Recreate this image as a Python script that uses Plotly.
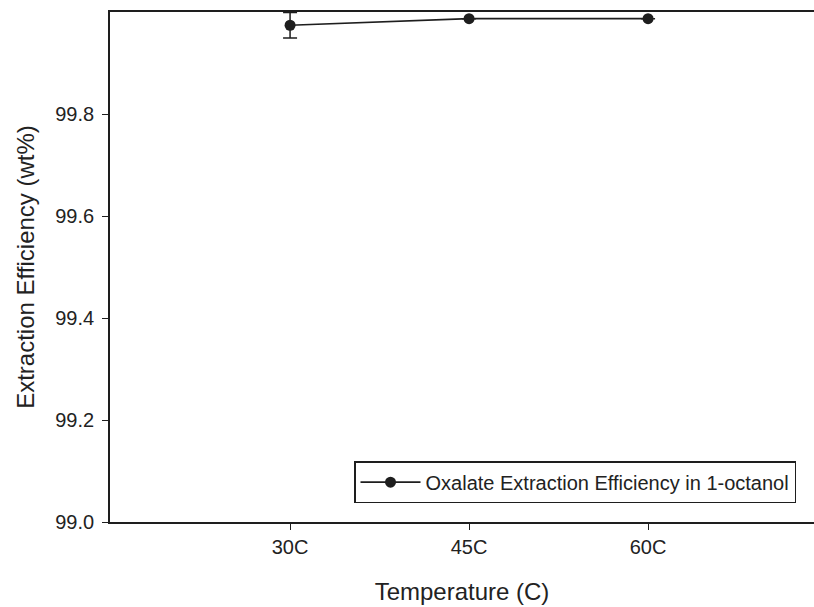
import plotly.graph_objects as go

# Oxalate extraction efficiency into 1-octanol at three temperatures
temperatures = ["30C", "45C", "60C"]
efficiency = [99.974, 99.987, 99.987]
efficiency_err = [0.025, None, None]
series_name = "Oxalate Extraction Efficiency in 1-octanol"

y_ticks = [99.0, 99.2, 99.4, 99.6, 99.8]

ink = "#1e1e1e"
font_family = "Liberation Sans, Arial, sans-serif"

x_pos = list(range(len(temperatures)))

fig = go.Figure()
fig.add_trace(go.Scatter(
    x=x_pos,
    y=efficiency,
    mode="lines+markers",
    name=series_name,
    line=dict(color=ink, width=1.6),
    marker=dict(color=ink, size=11, symbol="circle"),
    error_y=dict(type="data", array=efficiency_err, visible=True,
                 color=ink, thickness=1.5, width=7),
    showlegend=True,
))

fig.update_layout(
    width=814,
    height=607,
    margin=dict(l=110, r=0, t=12, b=85),
    paper_bgcolor="white",
    plot_bgcolor="white",
    font=dict(family=font_family, color="#222222", size=20),
    showlegend=True,
    legend=dict(
        x=0.3466, y=0.037, xanchor="left", yanchor="bottom",
        bgcolor="white", bordercolor=ink, borderwidth=1.5,
        font=dict(size=20, family=font_family, color="#222222"),
        itemwidth=60,
        entrywidth=440, entrywidthmode="pixels",
    ),
    xaxis=dict(
        range=[-1.006, 2.927],
        tickmode="array",
        tickvals=x_pos,
        ticktext=temperatures,
        showline=True, linecolor=ink, linewidth=1.6, mirror=True,
        ticks="outside", ticklen=6, tickcolor=ink, tickwidth=1.3,
        showgrid=False, zeroline=False,
        title=dict(text="Temperature (C)", font=dict(size=24), standoff=26),
    ),
    yaxis=dict(
        range=[99.0, 100.0],
        tickmode="array",
        tickvals=y_ticks,
        ticktext=[f"{v:.1f}" for v in y_ticks],
        ticklabelstandoff=4,
        showline=True, linecolor=ink, linewidth=1.6, mirror=False,
        ticks="outside", ticklen=6, tickcolor=ink, tickwidth=1.3,
        showgrid=False, zeroline=False,
        title=dict(text="Extraction Efficiency (wt%)", font=dict(size=24), standoff=14),
    ),
)

fig.write_html("out.html")
